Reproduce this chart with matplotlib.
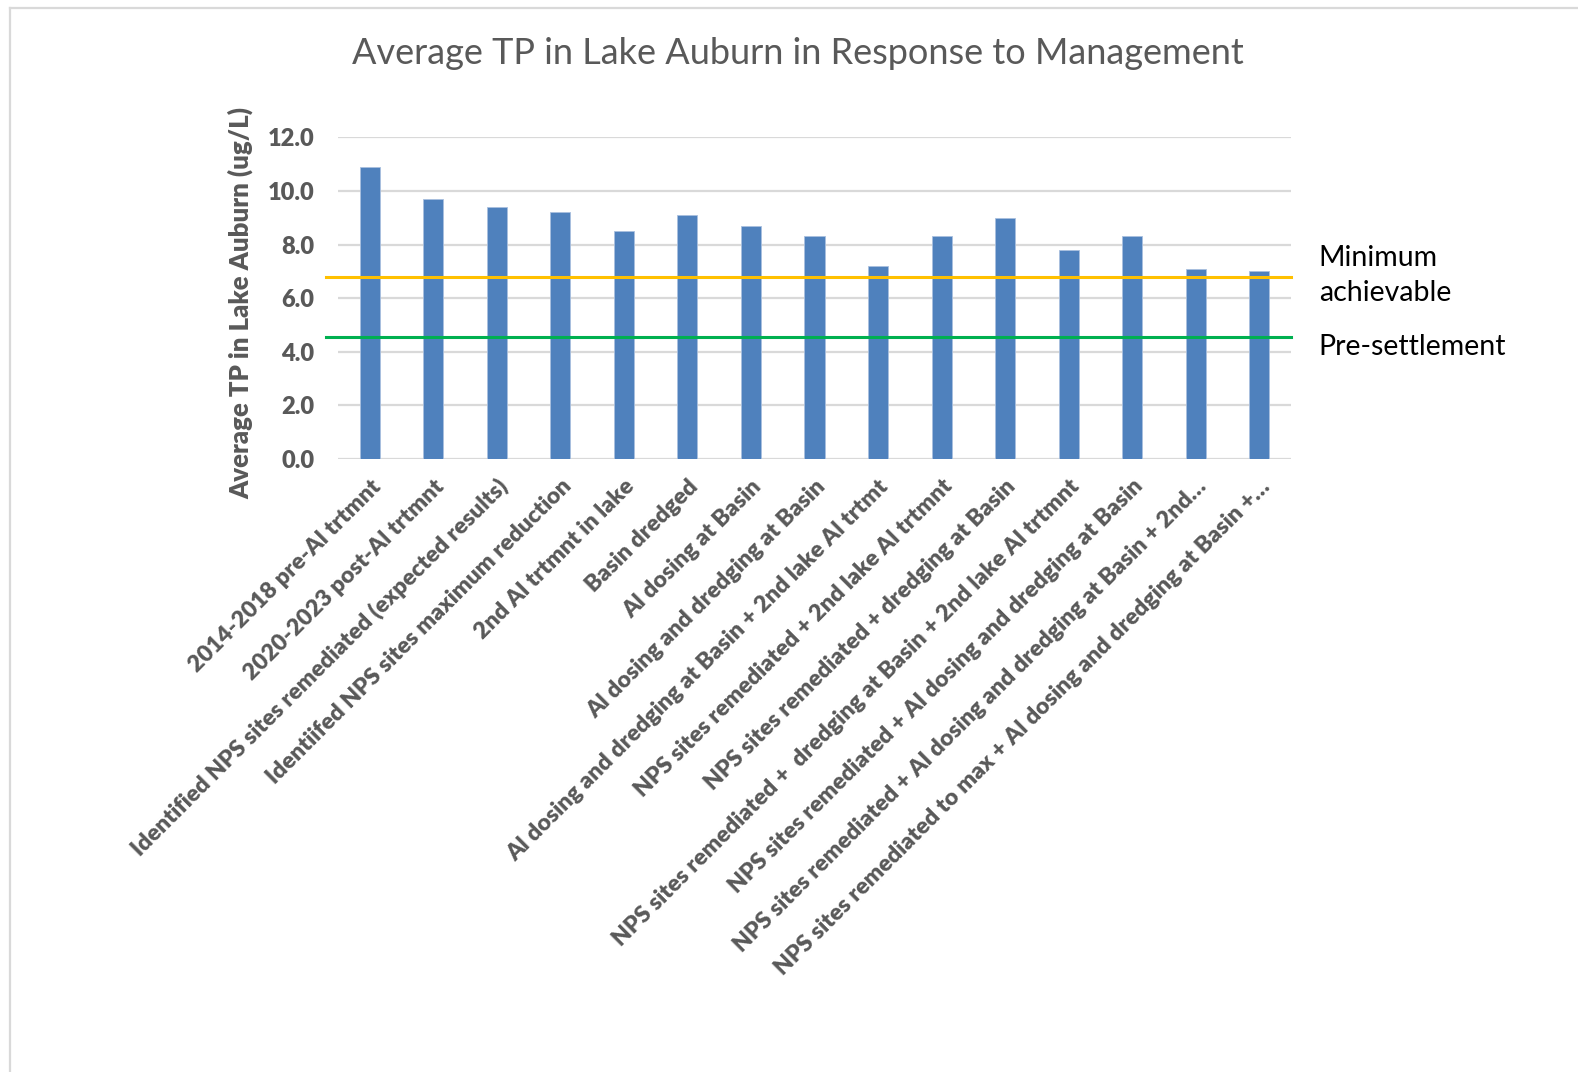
import matplotlib
matplotlib.use("Agg")
import matplotlib.pyplot as plt
from matplotlib.lines import Line2D
import matplotlib.transforms as mtransforms

plt.rcParams['font.family'] = ['Lato', 'DejaVu Sans']

# Scenario names and modelled average TP (ug/L)
categories = [
    "2014-2018 pre-Al trtmnt",
    "2020-2023 post-Al trtmnt",
    "Identified NPS sites remediated (expected results)",
    "Identiifed NPS sites maximum reduction",
    "2nd Al trtmnt in lake",
    "Basin dredged",
    "Al dosing at Basin",
    "Al dosing and dredging at Basin",
    "Al dosing and dredging at Basin + 2nd lake Al trtmt",
    "NPS sites remediated + 2nd lake Al trtmnt",
    "NPS sites remediated + dredging at Basin",
    "NPS sites remediated +  dredging at Basin + 2nd lake Al trtmnt",
    "NPS sites remediated + Al dosing and dredging at Basin",
    "NPS sites remediated + Al dosing and dredging at Basin + 2nd\u2026",
    "NPS sites remediated to max + Al dosing and dredging at Basin +\u2026",
]
avg_tp = [10.9, 9.7, 9.4, 9.2, 8.5, 9.1, 8.7, 8.3, 7.2, 8.3, 9.0, 7.8, 8.3, 7.1, 7.0]

# Reference levels
min_achievable = 6.8
pre_settlement = 4.55
ref_labels = ["Minimum\nachievable", "Pre-settlement"]

y_ticks = [0, 2, 4, 6, 8, 10, 12]

W, H = 1578, 1072
fig = plt.figure(figsize=(W / 100, H / 100), dpi=100)
ax = fig.add_axes([338 / W, 1 - 459 / H, (1291 - 338) / W, (459 - 137.3) / H])

x = list(range(len(categories)))
ax.bar(x, avg_tp, width=0.315, color="#4F81BD", edgecolor="#A9C0DF",
       linewidth=0.6, zorder=3)

ax.set_xlim(-0.5, len(categories) - 0.5)
ax.set_ylim(0, 12)
ax.set_yticks(y_ticks)
ax.set_yticklabels([f"{v:.1f}" for v in y_ticks])
ax.yaxis.grid(True, color="#D9D9D9", linewidth=1.6, zorder=0)
ax.set_axisbelow(True)
for s in ax.spines.values():
    s.set_visible(False)
ax.tick_params(axis="both", length=0, colors="#595959")
for lab in ax.get_yticklabels():
    lab.set_fontsize(17)
    lab.set_fontweight("heavy")
ax.tick_params(axis="y", pad=17)

ax.set_xticks(x)
ax.set_xticklabels(categories, rotation=45, ha="right", rotation_mode="anchor",
                   fontsize=16.7, fontweight="heavy", color="#595959")
ax.tick_params(axis="x", pad=12)

ax.set_ylabel("Average TP in Lake Auburn (ug/L)", fontsize=18.5, fontweight="heavy",
              color="#595959", labelpad=10)
ax.yaxis.label.set_y(0.485)

# Horizontal reference lines, starting slightly left of the plot area
trans = mtransforms.blended_transform_factory(ax.transAxes, ax.transData)
x0 = (326 - 338) / (1291 - 338)
for val, col in [(min_achievable, "#FFC000"), (pre_settlement, "#00B050")]:
    ax.add_line(Line2D([x0, 1.0], [val, val], transform=trans, color=col,
                       linewidth=2.2, clip_on=False, zorder=4))

ax.annotate(ref_labels[0], xy=(1.0, min_achievable), xycoords=trans,
            xytext=(20, 1), textcoords="offset points", ha="left", va="center",
            fontsize=20.5, color="black", linespacing=1.42)
ax.annotate(ref_labels[1], xy=(1.0, pre_settlement), xycoords=trans,
            xytext=(20, -7), textcoords="offset points", ha="left", va="center",
            fontsize=20.5, color="black")

fig.text(798 / W, 1 - 54 / H, "Average TP in Lake Auburn in Response to Management",
         ha="center", va="center", fontsize=26, color="#595959")

# Chart area border (top and left edges)
bx, by = 9.5 / W, 1 - 7.5 / H
fig.add_artist(Line2D([bx, 1.0], [by, by], transform=fig.transFigure,
                      color="#D9D9D9", linewidth=1.6))
fig.add_artist(Line2D([bx, bx], [0, by], transform=fig.transFigure,
                      color="#D9D9D9", linewidth=1.6))

fig.savefig("out.png", dpi=100, facecolor="white")
